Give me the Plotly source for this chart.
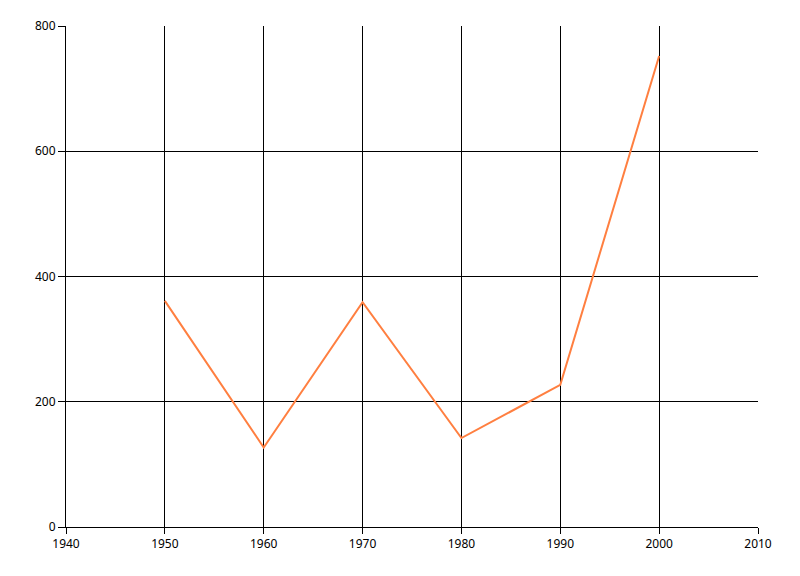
import plotly.graph_objects as go

years = [1950, 1960, 1970, 1980, 1990, 2000]
values = [361, 127, 359, 142, 227, 752]

x_ticks = [1940, 1950, 1960, 1970, 1980, 1990, 2000, 2010]
y_ticks = [0, 200, 400, 600, 800]

fig = go.Figure(go.Scatter(x=years, y=values, mode="lines",
                           line=dict(color="#ff7f40", width=2)))

# page puts the figure 8px in from the top-left, so margins compensate for that
fig.update_layout(
    width=800, height=576,
    margin=dict(l=58, r=50, t=18, b=57),
    plot_bgcolor="white", paper_bgcolor="white",
    showlegend=False,
    font=dict(family="Noto Sans, Liberation Sans, sans-serif", size=12, color="black"),
)
fig.update_xaxes(range=[1940, 2010], tickvals=x_ticks, showgrid=True,
                 gridcolor="black", gridwidth=1, showline=True, linecolor="black",
                 linewidth=1, ticks="outside", ticklen=6, tickcolor="black",
                 zeroline=False, automargin=False)
fig.update_yaxes(range=[0, 800], tickvals=y_ticks, showgrid=True,
                 gridcolor="black", gridwidth=1, showline=True, linecolor="black",
                 linewidth=1, ticks="outside", ticklen=7, tickcolor="black",
                 zeroline=False, automargin=False)

fig.write_html("out.html")
